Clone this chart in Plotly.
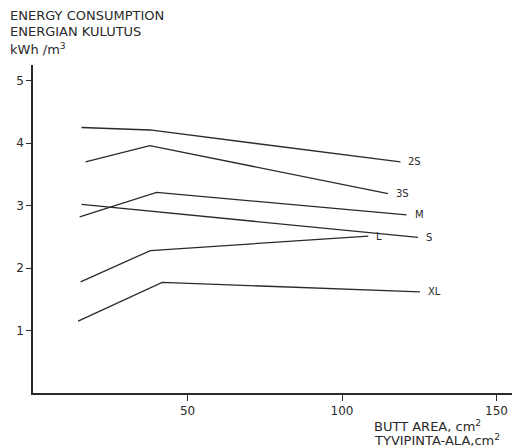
import plotly.graph_objects as go

# Data
series_names = ["2S", "3S", "M", "S", "L", "XL"]
x_2s = [15.7, 37.8, 118.9]
y_2s = [4.25, 4.21, 3.70]
x_3s = [17.0, 37.8, 114.9]
y_3s = [3.70, 3.96, 3.19]
x_m = [15.1, 40.0, 120.9]
y_m = [2.82, 3.21, 2.85]
x_s = [15.7, 38.0, 124.6]
y_s = [3.02, 2.91, 2.49]
x_l = [15.4, 38.0, 108.5]
y_l = [1.78, 2.28, 2.51]
x_xl = [14.6, 41.8, 125.2]
y_xl = [1.15, 1.77, 1.62]

x_ticks = [50, 100, 150]
y_ticks = [1, 2, 3, 4, 5]

xs = [x_2s, x_3s, x_m, x_s, x_l, x_xl]
ys = [y_2s, y_3s, y_m, y_s, y_l, y_xl]

W, H = 512, 448
ML, MR, MT, MB = 33, 0, 65, 448 - 393.5
FONT = "DejaVu Sans"
INK = "#2a2a2a"

def px(X):
    return (X - ML) / (W - ML - MR)

def py(Y):
    return (H - MB - Y) / (H - MT - MB)

fig = go.Figure()
for name, x, y in zip(series_names, xs, ys):
    fig.add_trace(go.Scatter(x=x, y=y, mode="lines", name=name,
                             line=dict(color=INK, width=1.3), showlegend=False))
    fig.add_annotation(x=x[-1], y=y[-1], xref="x", yref="y", text=name,
                       showarrow=False, xanchor="left", yanchor="middle",
                       xshift=6, font=dict(family=FONT, size=10, color=INK))

texts = [
    ("ENERGY CONSUMPTION", 8, 15),
    ("ENERGIAN KULUTUS", 8, 31),
    ("kWh /m<sup>3</sup>", 8, 49),
    ("BUTT AREA, cm<sup>2</sup>", 372, 427),
    ("TYVIPINTA-ALA,cm<sup>2</sup>", 372, 441),
]
for t, X, Y in texts:
    fig.add_annotation(x=px(X), y=py(Y), xref="paper", yref="paper", text=t,
                       showarrow=False, xanchor="left", yanchor="middle",
                       font=dict(family=FONT, size=13, color=INK))

fig.update_layout(
    width=W, height=H,
    margin=dict(l=ML, r=MR, t=MT, b=MB, pad=0),
    paper_bgcolor="white", plot_bgcolor="white",
    font=dict(family=FONT, size=12, color=INK),
    xaxis=dict(range=[0, 155], tickvals=x_ticks, ticks="outside", ticklen=6,
               tickwidth=1.2, tickcolor=INK, showline=True, linecolor=INK,
               linewidth=1.6, showgrid=False, zeroline=False,
               tickfont=dict(family=FONT, size=12, color=INK)),
    yaxis=dict(range=[0, 5.25], tickvals=y_ticks, ticks="outside", ticklen=5,
               tickwidth=1.2, tickcolor=INK, showline=True, linecolor=INK,
               linewidth=1.6, showgrid=False, zeroline=False,
               tickfont=dict(family=FONT, size=12, color=INK)),
)

fig.write_html(
    "out.html",
    config={"displayModeBar": False},
    post_script="document.body.style.margin='0';"
                "document.documentElement.style.overflow='hidden';",
)
